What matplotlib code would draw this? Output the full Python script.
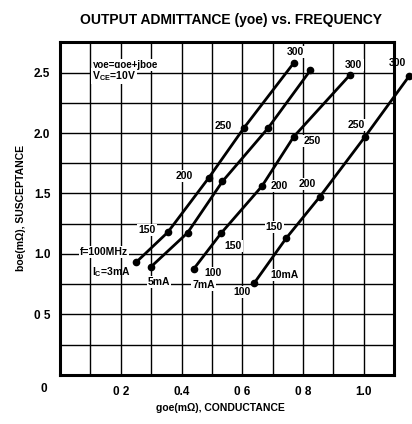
import numpy as np
import matplotlib
matplotlib.use("Agg")
import matplotlib.pyplot as plt

plt.rcParams["font.family"] = ["Liberation Sans", "DejaVu Sans"]
plt.rcParams["font.weight"] = "bold"
plt.rcParams["mathtext.default"] = "regular"

# Datos (g en mS, b en mS)
freqs = [100, 150, 200, 250, 300]
g_3ma = [0.25, 0.355, 0.49, 0.605, 0.77]
b_3ma = [0.93, 1.18, 1.63, 2.04, 2.58]
g_5ma = [0.30, 0.42, 0.535, 0.685, 0.825]
b_5ma = [0.895, 1.175, 1.60, 2.04, 2.52]
g_7ma = [0.44, 0.53, 0.665, 0.77, 0.955]
b_7ma = [0.875, 1.17, 1.56, 1.97, 2.48]
g_10ma = [0.64, 0.745, 0.855, 1.005, 1.15]
b_10ma = [0.76, 1.13, 1.47, 1.97, 2.47]

x_ticks = [0.2, 0.4, 0.6, 0.8, 1.0]
x_labels = ["0 2", "0.4", "0 6", "0 8", "1.0"]
y_ticks = [0.5, 1.0, 1.5, 2.0, 2.5]
y_labels = ["0 5", "1.0", "1.5", "2.0", "2.5"]

fig = plt.figure(figsize=(4.12, 4.24), dpi=100)
ax = fig.add_axes([0.146, 0.116, 0.810, 0.784])
ax.set_xlim(0, 1.1)
ax.set_ylim(0, 2.75)

# rejilla
ax.set_xticks(np.arange(0.1, 1.1, 0.1), minor=True)
ax.set_yticks(np.arange(0.25, 2.75, 0.25), minor=True)
ax.grid(which="both", color="black", linewidth=1.0, zorder=0.5)
ax.set_axisbelow(True)
ax.set_xticks(x_ticks)
ax.set_xticklabels(x_labels)
ax.set_yticks(y_ticks)
ax.set_yticklabels(y_labels)
ax.tick_params(which="both", length=0, labelsize=8.5)
ax.tick_params(axis="x", pad=8)
ax.tick_params(axis="y", pad=7)
for s in ax.spines.values():
    s.set_linewidth(2.2)
ax.text(-0.04, -0.025, "0", transform=ax.transAxes, ha="right", va="top", fontsize=8.5)

def curve(g, b):
    ax.plot(g, b, "k-", lw=2.0, marker="o", ms=4.5, zorder=3, clip_on=False)

curve(g_3ma, b_3ma)
curve(g_5ma, b_5ma)
curve(g_7ma, b_7ma)
curve(g_10ma, b_10ma)

box = dict(boxstyle="square,pad=0.1", fc="white", ec="none")

def label(g, b, i, s, dx, dy, bg=True):
    ax.annotate(s, (g[i], b[i]), xytext=(dx, dy), textcoords="offset pixels",
                ha="center", va="center", fontsize=7.5, zorder=2,
                bbox=box if bg else None, annotation_clip=False)

# 3mA
label(g_3ma, b_3ma, 0, "f=100MHz", -32, 10)
label(g_3ma, b_3ma, 0, "I$_C$=3mA", -25, -10, False)
label(g_3ma, b_3ma, 1, "150", -21, 2)
label(g_3ma, b_3ma, 2, "200", -25, 2)
label(g_3ma, b_3ma, 3, "250", -20, 2)
label(g_3ma, b_3ma, 4, "300", 2, 11)
# 5mA
label(g_5ma, b_5ma, 0, "5mA", 8, -15)
# 7mA
label(g_7ma, b_7ma, 0, "100", 19, -4)
label(g_7ma, b_7ma, 0, "7mA", 10, -16)
label(g_7ma, b_7ma, 1, "150", 12, -13)
label(g_7ma, b_7ma, 2, "200", 17, 0)
label(g_7ma, b_7ma, 3, "250", 18, -4)
label(g_7ma, b_7ma, 4, "300", 4, 10)
# 10mA
label(g_10ma, b_10ma, 0, "100", -12, -9)
label(g_10ma, b_10ma, 0, "10mA", 30, 8)
label(g_10ma, b_10ma, 1, "150", -12, 11)
label(g_10ma, b_10ma, 2, "200", -12, 13)
label(g_10ma, b_10ma, 3, "250", -9, 12)
label(g_10ma, b_10ma, 4, "300", -12, 13)

ax.text(0.195, 0.9325, "yoe=goe+jboe", transform=ax.transAxes, ha="center",
        va="center", fontsize=7, zorder=2, bbox=box)
ax.text(0.16, 0.898, "V$_{CE}$=10V", transform=ax.transAxes, ha="center",
        va="center", fontsize=7.5, zorder=2, bbox=box)

fig.text(0.56, 0.952, "OUTPUT ADMITTANCE (yoe) vs. FREQUENCY", ha="center",
         va="center", fontsize=10, fontweight="bold")
fig.text(0.535, 0.038, "goe(m\u03a9), CONDUCTANCE", ha="center", va="center",
         fontsize=7.5, fontweight="bold")
fig.text(0.05, 0.51, "boe(m\u03a9), SUSCEPTANCE", ha="center", va="center",
         rotation=90, fontsize=7.5, fontweight="bold")

fig.savefig("out.png", dpi=100)
